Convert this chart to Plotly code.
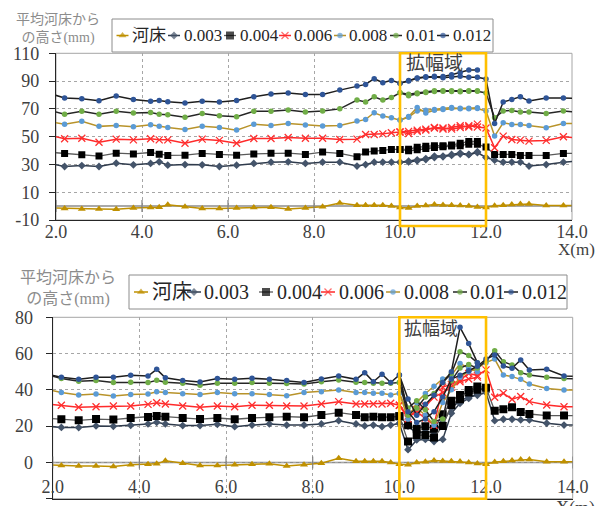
import plotly.graph_objects as go

# the page places the figure 8 px from the top-left corner of the window,
# so the figure is sized to fill the rest of the 603 x 506 window
OFF = 8
W, H = 603 - OFF, 506 - OFF

# ------------------------------------------------------------------ data
series_names = ["河床", "0.003", "0.004", "0.006", "0.008", "0.01", "0.012"]

x_main = [1.8, 2.2, 2.6, 3.0, 3.4, 3.8, 4.2, 4.4, 4.6, 5.0,
          5.4, 5.8, 6.2, 6.6, 7.0, 7.4, 7.8, 8.2, 8.6, 9.0,
          9.2, 9.4, 9.6, 9.8, 10.0, 10.2, 10.4, 10.6, 10.8, 11.0,
          11.2, 11.4, 11.6, 11.8, 12.0, 12.2, 12.4, 12.6, 12.8, 13.0,
          13.4, 13.8, 14.2]
x_branch = [10.0, 10.2, 10.4, 10.6, 10.8, 11.0, 11.2, 11.4, 11.6, 11.8]

bed = [-1.3, -1.7, -2.0, -2.0, -2.2, -1.3, -1.0, -0.8, 0.9, -0.5,
       -1.7, -1.7, -1.3, -1.0, -0.8, -2.0, -1.3, -0.5, 2.3, 0.6,
       0.6, 0.6, 0.6, 0.0, -1.0, -1.3, 0.0, 0.4, 1.1, 0.8,
       0.6, 0.5, 0.0, -0.6, -1.0, 0.2, 0.6, 1.1, 1.6, 1.6,
       0.4, 0.4, 0.4]

# upper chart
top_003 = [30.9, 28.5, 29.2, 28.5, 30.9, 29.7, 30.7, 31.9, 29.5, 29.9,
           29.7, 28.5, 29.5, 30.7, 31.6, 31.9, 30.7, 31.6, 31.6, 28.8,
           29.9, 31.6, 31.6, 31.6, 31.6, 31.8, 32.6, 33.5, 35.0, 35.5,
           36.5, 37.5, 37.0, 38.5, 35.0, 33.1, 31.6, 31.6, 31.6, 28.8,
           29.9, 31.6, 32.5]
top_003_b = [31.6, 32.3, 33.2, 34.2, 36.0, 36.0, 37.2, 38.2, 37.2, 39.2]
top_004 = [38.9, 37.9, 36.9, 36.0, 38.1, 37.6, 38.6, 37.4, 36.5, 36.7,
           37.9, 37.2, 36.7, 37.6, 38.1, 38.1, 37.2, 38.9, 37.9, 35.5,
           38.9, 39.6, 40.1, 40.8, 40.8, 39.8, 40.5, 41.5, 42.2, 42.7,
           43.2, 43.5, 44.6, 44.6, 42.5, 37.2, 37.2, 37.2, 36.5, 36.5,
           36.5, 37.9, 37.9]
top_004_b = [40.8, 41.0, 42.3, 43.0, 43.5, 43.5, 44.0, 45.2, 46.5, 46.5]
top_006 = [51.3, 48.5, 48.9, 46.0, 48.2, 47.7, 48.5, 47.7, 47.7, 45.3,
           48.2, 47.3, 45.3, 48.7, 48.7, 49.4, 48.9, 48.9, 48.0, 48.2,
           51.6, 51.6, 52.0, 52.8, 53.3, 52.3, 53.8, 54.7, 56.6, 56.2,
           55.4, 56.6, 57.8, 57.0, 56.2, 42.0, 50.4, 48.0, 47.5, 46.8,
           47.3, 49.9, 49.0]
top_006_b = [53.3, 53.8, 54.7, 55.4, 56.2, 55.4, 56.6, 57.8, 57.0, 59.0]
top_008 = [61.0, 59.0, 61.0, 57.4, 58.1, 57.1, 58.5, 57.4, 56.6, 55.2,
           57.4, 56.6, 54.7, 59.0, 58.1, 59.5, 58.3, 57.6, 58.1, 61.2,
           62.4, 67.2, 64.8, 63.6, 61.9, 64.0, 68.5, 69.0, 69.5, 70.0,
           71.0, 70.0, 70.0, 70.3, 68.5, 50.4, 60.0, 58.8, 58.8, 58.1,
           56.4, 59.5, 59.5]
top_008_b = [61.9, 64.5, 71.0, 67.0, 69.0, 69.5, 70.5, 70.5, 70.5, 70.8]
top_010 = [69.2, 66.2, 68.2, 66.2, 68.2, 67.0, 67.4, 66.2, 65.8, 64.0,
           66.7, 65.0, 64.3, 68.2, 68.2, 69.1, 67.7, 68.4, 70.0, 76.3,
           74.9, 78.7, 76.3, 78.2, 81.6, 79.5, 80.8, 81.8, 82.5, 82.6,
           82.5, 82.4, 82.6, 82.6, 81.5, 63.6, 68.4, 68.9, 67.7, 67.7,
           66.7, 68.4, 67.5]
top_010_b = [81.6, 80.5, 81.5, 82.2, 83.0, 83.0, 83.0, 82.8, 83.0, 83.0]
top_012 = [81.6, 77.8, 77.3, 75.8, 79.2, 76.8, 75.4, 76.1, 75.1, 74.2,
           75.4, 74.9, 76.1, 78.7, 80.7, 81.4, 80.4, 80.4, 83.5, 86.4,
           87.6, 91.7, 88.8, 90.5, 88.5, 90.0, 92.0, 92.8, 93.0, 92.4,
           93.0, 93.5, 92.7, 92.7, 91.5, 59.5, 74.9, 76.8, 78.7, 75.6,
           77.8, 77.8, 77.5]
top_012_b = [88.5, 90.5, 92.3, 93.2, 93.5, 93.3, 94.5, 96.2, 98.0, 98.0]

# lower chart
bot_003 = [20.1, 19.3, 19.2, 20.1, 19.9, 20.5, 21.2, 22.1, 21.2, 20.3,
           20.3, 21.0, 19.7, 20.6, 21.2, 20.6, 20.6, 21.2, 23.0, 21.2,
           20.1, 20.6, 19.7, 20.6, 21.5, 20.0, 16.0, 17.0, 16.5, 22.0,
           30.0, 34.0, 36.0, 37.0, 38.5, 23.0, 23.8, 23.8, 23.4, 23.4,
           21.6, 20.6, 20.6]
bot_003_b = [21.5, 7.0, 12.4, 12.7, 11.5, 12.7, 27.1, 32.6, 35.3, 38.1]
bot_004 = [24.4, 23.8, 23.2, 23.9, 23.6, 24.5, 25.0, 25.6, 25.2, 24.5,
           23.9, 24.5, 23.8, 24.5, 24.9, 25.2, 24.9, 26.2, 27.4, 26.2,
           24.9, 25.2, 24.9, 24.9, 25.5, 20.5, 18.5, 20.0, 18.5, 26.5,
           34.0, 37.2, 38.5, 40.0, 41.2, 28.5, 29.3, 30.4, 27.8, 26.7,
           25.8, 25.8, 25.8]
bot_004_b = [25.5, 11.5, 15.1, 15.1, 13.8, 20.1, 31.7, 34.8, 39.9, 41.8]
bot_006 = [32.3, 31.5, 30.4, 30.7, 31.1, 31.1, 32.0, 32.9, 32.2, 31.1,
           30.4, 31.1, 30.7, 31.5, 31.5, 31.1, 31.1, 32.2, 33.5, 32.2,
           32.2, 32.2, 32.2, 32.6, 31.5, 25.5, 28.0, 24.5, 20.5, 41.5,
           43.0, 45.5, 49.0, 48.0, 51.0, 35.9, 38.1, 34.8, 36.3, 33.5,
           31.7, 30.7, 30.7]
bot_006_b = [31.5, 24.0, 29.0, 31.0, 36.0, 38.5, 41.5, 44.5, 46.0, 47.0]
bot_008 = [40.7, 38.5, 37.2, 37.7, 36.6, 37.4, 37.7, 39.0, 38.5, 37.9,
           37.4, 38.5, 37.9, 37.9, 37.4, 36.8, 38.5, 39.0, 39.9, 38.5,
           38.5, 38.1, 38.1, 37.2, 38.1, 27.0, 30.0, 26.0, 20.5, 33.0,
           40.0, 47.0, 50.0, 52.0, 55.0, 57.0, 48.2, 47.3, 45.8, 43.2,
           40.8, 39.9, 39.9]
bot_008_b = [38.1, 24.0, 33.0, 38.0, 42.0, 46.0, 48.0, 54.5, 52.0, 50.0]
bot_010 = [48.8, 46.2, 44.7, 45.1, 44.0, 44.2, 44.0, 45.3, 44.2, 43.6,
           42.5, 43.6, 43.6, 44.0, 43.6, 43.5, 43.2, 44.5, 45.4, 44.2,
           44.0, 43.6, 43.6, 43.6, 44.0, 30.0, 34.0, 29.0, 22.5, 24.0,
           45.0, 52.0, 54.0, 52.0, 56.0, 61.6, 55.5, 53.7, 49.5, 48.2,
           46.9, 46.2, 46.0]
bot_010_b = [44.0, 26.0, 30.0, 36.0, 38.0, 44.0, 49.0, 61.0, 59.0, 55.0]
bot_012 = [49.1, 46.9, 45.8, 46.9, 46.9, 48.0, 47.6, 51.3, 46.7, 45.1,
           44.3, 46.2, 45.8, 46.4, 45.8, 45.1, 44.0, 46.0, 47.6, 45.8,
           49.5, 44.5, 48.6, 44.0, 48.2, 28.0, 22.0, 24.0, 28.0, 36.0,
           46.0, 48.0, 50.5, 53.0, 57.0, 59.2, 53.2, 51.9, 56.5, 51.0,
           51.3, 47.6, 47.3]
bot_012_b = [48.2, 35.0, 26.0, 32.0, 37.0, 44.0, 50.0, 74.5, 65.5, 55.0]

x_ticks = [2, 4, 6, 8, 10, 12, 14]
x_ticktext = ["2.0", "4.0", "6.0", "8.0", "10.0", "12.0", "14.0"]
top_yticks = [-10, 10, 30, 50, 70, 90, 110]
bot_yticks = [-20, 0, 20, 40, 60, 80]
wide_zone = [10.0, 12.0]

# ------------------------------------------------------------------ styles
STY = {
    "河床":  dict(line="#BF9000", mk="#BF9000", sym="triangle-up", size=7, lw=1.5),
    "0.003": dict(line="#2F3B4C", mk="#44546A", sym="diamond", size=6, lw=1.5),
    "0.004": dict(line="#5A5A5A", mk="#000000", sym="square", size=7, lw=1.3),
    "0.006": dict(line="#FF2A2A", mk="#FF3030", sym="x-thin-open", size=7, lw=1.5),
    "0.008": dict(line="#B8932A", mk="#5B9BD5", sym="circle", size=5.5, lw=1.5),
    "0.01":  dict(line="#262626", mk="#70AD47", sym="circle", size=5.5, lw=1.5),
    "0.012": dict(line="#1E1E1E", mk="#2F5597", sym="circle", size=5.5, lw=1.5),
}
SERIF = "Liberation Serif, Noto Sans CJK JP"
TXT = "#404040"


def marker_of(name, size=None):
    s = STY[name]
    sz = size if size is not None else s["size"]
    if s["sym"] == "x-thin-open":
        return dict(symbol=s["sym"], size=sz, color=s["mk"],
                    line=dict(color=s["mk"], width=1.3))
    return dict(symbol=s["sym"], size=sz, color=s["mk"], line=dict(width=0))


def px_x(px):
    """window pixel -> paper x"""
    return (px - OFF) / W


def px_y(py):
    """window pixel -> paper y"""
    return 1 - (py - OFF) / H


fig = go.Figure()

top_sets = [("河床", bed, None), ("0.003", top_003, top_003_b),
            ("0.004", top_004, top_004_b), ("0.006", top_006, top_006_b),
            ("0.008", top_008, top_008_b), ("0.01", top_010, top_010_b),
            ("0.012", top_012, top_012_b)]
bot_sets = [("河床", bed, None), ("0.003", bot_003, bot_003_b),
            ("0.004", bot_004, bot_004_b), ("0.006", bot_006, bot_006_b),
            ("0.008", bot_008, bot_008_b), ("0.01", bot_010, bot_010_b),
            ("0.012", bot_012, bot_012_b)]

for sets, xa, ya, sq in [(top_sets, "x", "y", 7), (bot_sets, "x2", "y2", 8)]:
    for name, vals, branch in sets:
        s = STY[name]
        msize = sq if name == "0.004" else None
        fig.add_trace(go.Scatter(
            x=x_main, y=vals, mode="lines+markers", name=name,
            line=dict(color=s["line"], width=s["lw"]),
            marker=marker_of(name, msize), xaxis=xa, yaxis=ya,
            showlegend=False, cliponaxis=True))
        if branch is not None:
            fig.add_trace(go.Scatter(
                x=x_branch, y=branch, mode="lines+markers", name=name,
                line=dict(color=s["line"], width=s["lw"]),
                marker=marker_of(name, msize), xaxis=xa, yaxis=ya,
                showlegend=False, cliponaxis=True))

# ------------------------------------------------------------------ custom legends
legend_specs = [
    dict(box=(112, 19, 493, 52), cy=35.5, font=17, ms=0,
         sym=[122.5, 174, 230, 285, 340, 396, 443],
         txt=[130, 182, 238, 292, 347, 404, 451]),
    dict(box=(129, 275, 567, 309), cy=292, font=20, ms=1,
         sym=[141, 194, 266, 328, 393, 460, 511],
         txt=[150, 202, 275, 337, 402, 468, 520]),
]
annotations = []
shapes = []
for spec in legend_specs:
    x0, y0, x1, y1 = spec["box"]
    shapes.append(dict(type="rect", xref="paper", yref="paper",
                       x0=px_x(x0), x1=px_x(x1), y0=px_y(y1), y1=px_y(y0),
                       line=dict(color="#8C8C8C", width=1), fillcolor="white",
                       layer="below"))
    for i, name in enumerate(series_names):
        s = STY[name]
        c = spec["sym"][i]
        half = 6 + spec["ms"]
        base = marker_of(name, (8 if name == "0.004" else None))
        sz = base["size"]
        base["size"] = [0, sz, 0]
        fig.add_trace(go.Scatter(
            x=[c - half, c, c + half], y=[spec["cy"]] * 3,
            mode="lines+markers", line=dict(color=s["line"], width=s["lw"]),
            marker=base, xaxis="x3", yaxis="y3", showlegend=False,
            hoverinfo="skip", cliponaxis=False))
        annotations.append(dict(
            x=spec["txt"][i], y=spec["cy"], xref="x3", yref="y3",
            text=name, showarrow=False, xanchor="left", yanchor="middle",
            font=dict(family=SERIF, size=spec["font"], color="#262626")))

# ------------------------------------------------------------------ axes
TOP_X = [px_x(56), px_x(572)]
TOP_Y = [px_y(220), px_y(53.3)]
BOT_X = [px_x(52.7), px_x(572.7)]
BOT_Y = [px_y(498.7), px_y(317.3)]

grid = dict(showgrid=True, gridcolor="#A6A6A6", griddash="dot", gridwidth=1,
            zeroline=False, automargin=False)
tickfont = dict(family=SERIF, size=18, color=TXT)

fig.update_layout(
    width=W, height=H, autosize=False,
    margin=dict(l=0, r=0, t=0, b=0, pad=0, autoexpand=False),
    paper_bgcolor="white", plot_bgcolor="rgba(0,0,0,0)",
    showlegend=False,
    xaxis=dict(domain=TOP_X, range=[2, 14], anchor="y", tickvals=x_ticks,
               ticktext=x_ticktext, ticks="", showline=True,
               linecolor="#262626", linewidth=1, tickfont=tickfont,
               ticklabelstandoff=-5, **grid),
    yaxis=dict(domain=TOP_Y, range=[-10, 110], anchor="x",
               tickvals=top_yticks, ticktext=[str(v) for v in top_yticks],
               ticks="outside", ticklen=6, tickcolor="#262626",
               showline=True, linecolor="#262626", linewidth=1.2,
               tickfont=tickfont, ticklabelstandoff=6, **grid),
    xaxis2=dict(domain=BOT_X, range=[2, 14], anchor="y2", tickvals=x_ticks,
                ticktext=x_ticktext, ticks="", showline=True,
                linecolor="#262626", linewidth=1, tickfont=tickfont,
                ticklabelstandoff=-28, **grid),
    yaxis2=dict(domain=BOT_Y, range=[-20, 80], anchor="x2",
                tickvals=bot_yticks, ticktext=[str(v) for v in bot_yticks],
                ticks="outside", ticklen=6, tickcolor="#262626",
                showline=True, linecolor="#262626", linewidth=1.2,
                tickfont=tickfont, ticklabelstandoff=9, **grid),
    xaxis3=dict(domain=[0, 1], range=[OFF, OFF + W], visible=False,
                fixedrange=True, anchor="y3", automargin=False),
    yaxis3=dict(domain=[0, 1], range=[OFF + H, OFF], visible=False,
                fixedrange=True, anchor="x3", automargin=False),
)

# plot-area borders, zero lines with crossing ticks, widening zone boxes
for xa, ya, zone_y in [("x", "y", (53.3, 226)), ("x2", "y2", (317.3, 498.7))]:
    shapes.append(dict(type="rect", xref=xa + " domain", yref=ya + " domain",
                       x0=0, x1=1, y0=0, y1=1,
                       line=dict(color="#A6A6A6", width=1), layer="below"))
    shapes.append(dict(type="line", xref=xa + " domain", yref=ya,
                       x0=0, x1=1, y0=0, y1=0,
                       line=dict(color="#8C8C8C", width=1.5), layer="below"))
    for t in x_ticks:
        shapes.append(dict(type="line", xref=xa, yref=ya, x0=t, x1=t,
                           ysizemode="pixel", yanchor=0, y0=-6, y1=6,
                           line=dict(color="#7F7F7F", width=1.2)))
    shapes.append(dict(type="rect", xref=xa, yref="paper",
                       x0=wide_zone[0], x1=wide_zone[1],
                       y0=px_y(zone_y[1]), y1=px_y(zone_y[0]),
                       line=dict(color="#FFC000", width=2.6)))

# texts
ytitle = "平均河床から<br>の高さ(mm)"
annotations += [
    dict(x=px_x(58), y=px_y(29.5), xref="paper", yref="paper",
         text=ytitle, showarrow=False, xanchor="center", yanchor="middle",
         font=dict(family=SERIF, size=14, color="#8C8C8C")),
    dict(x=px_x(68), y=px_y(288), xref="paper", yref="paper",
         text=ytitle, showarrow=False, xanchor="center", yanchor="middle",
         font=dict(family=SERIF, size=16, color="#8C8C8C")),
    dict(x=wide_zone[0], y=px_y(63), xref="x", yref="paper", xshift=4,
         text="拡幅域", showarrow=False, xanchor="left", yanchor="middle",
         font=dict(family=SERIF, size=19, color=TXT)),
    dict(x=wide_zone[0], y=px_y(329), xref="x2", yref="paper", xshift=3,
         text="拡幅域", showarrow=False, xanchor="left", yanchor="middle",
         font=dict(family=SERIF, size=18, color=TXT)),
    dict(x=px_x(597), y=px_y(249), xref="paper", yref="paper",
         text="X(m)", showarrow=False, xanchor="right", yanchor="middle",
         font=dict(family=SERIF, size=17, color=TXT)),
    dict(x=px_x(597), y=px_y(508), xref="paper", yref="paper",
         text="X(m)", showarrow=False, xanchor="right", yanchor="middle",
         font=dict(family=SERIF, size=18, color=TXT)),
]

fig.update_layout(shapes=shapes, annotations=annotations)
fig.write_html("out.html")
